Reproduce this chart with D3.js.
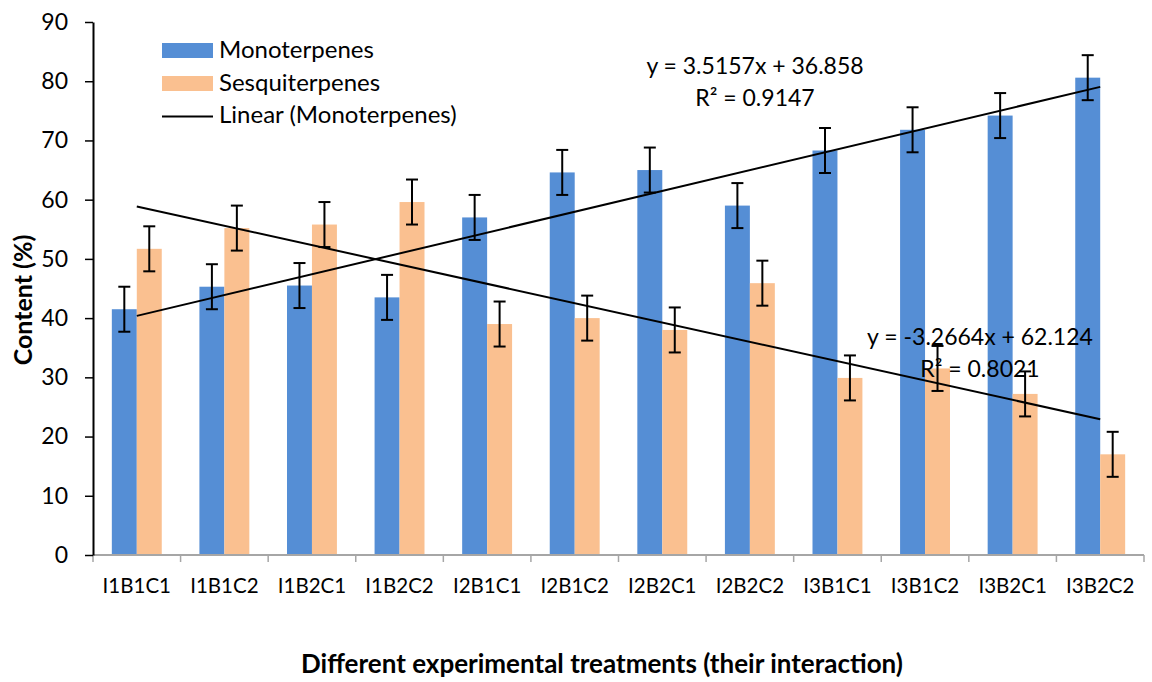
<!DOCTYPE html>
<html>
<head>
<meta charset="utf-8">
<script src="https://cdn.jsdelivr.net/npm/d3@7"></script>
<style>
  body { margin: 0; background: #fff; }
  svg { display: block; font-family: Lato, "Open Sans", sans-serif; }
</style>
</head>
<body>
<div id="chart"></div>
<script>
const categories = ["I1B1C1", "I1B1C2", "I1B2C1", "I1B2C2", "I2B1C1", "I2B1C2",
  "I2B2C1", "I2B2C2", "I3B1C1", "I3B1C2", "I3B2C1", "I3B2C2"];
const monoterpenes = [41.5, 45.3, 45.5, 43.5, 57.0, 64.6, 65.0, 59.0, 68.3, 71.8, 74.2, 80.6];
const sesquiterpenes = [51.7, 55.2, 55.8, 59.6, 39.0, 40.0, 38.0, 45.9, 29.9, 31.5, 27.2, 17.0];
const errorMono = [3.8, 3.8, 3.8, 3.8, 3.8, 3.8, 3.8, 3.8, 3.8, 3.8, 3.8, 3.8];
const errorSesq = [3.8, 3.8, 3.8, 3.8, 3.8, 3.8, 3.8, 3.8, 3.8, 3.8, 3.8, 3.8];
const yTicks = [0, 10, 20, 30, 40, 50, 60, 70, 80, 90];
// trendline coefficients as printed on the chart
const trendMono = { slope: 3.5157, intercept: 36.858, r2: "0.9147" };
const trendSesq = { slope: -3.2664, intercept: 62.124, r2: "0.8021" };

const width = 1152, height = 682;
const margin = { left: 93, right: 8, top: 22, bottom: 127 };

const svg = d3.select("#chart").append("svg")
  .attr("width", width)
  .attr("height", height);

const x = d3.scaleBand()
  .domain(categories)
  .range([margin.left, width - margin.right]);

const y = d3.scaleLinear()
  .domain([0, 90])
  .range([height - margin.bottom, margin.top]);

const barW = x.bandwidth() * 0.285;
const blue = "#558ed5", orange = "#fac090";

// bars
const series = [
  { name: "Monoterpenes", values: monoterpenes, err: errorMono, color: blue, off: -barW },
  { name: "Sesquiterpenes", values: sesquiterpenes, err: errorSesq, color: orange, off: 0 }
];

series.forEach(s => {
  const g = svg.append("g");
  g.selectAll("rect")
    .data(categories)
    .join("rect")
    .attr("x", (c) => x(c) + x.bandwidth() / 2 + s.off)
    .attr("y", (c, i) => y(s.values[i]))
    .attr("width", barW)
    .attr("height", (c, i) => y(0) - y(s.values[i]))
    .attr("fill", s.color);
});

// x axis (grey)
const xAxis = svg.append("g")
  .attr("transform", `translate(0,${y(0)})`);
xAxis.append("line")
  .attr("x1", margin.left).attr("x2", width - margin.right)
  .attr("stroke", "#a6a6a6").attr("stroke-width", 2);
const xEdges = categories.map(c => x(c)).concat([x(categories[categories.length - 1]) + x.bandwidth()]);
xAxis.selectAll("line.tick")
  .data(xEdges)
  .join("line")
  .attr("class", "tick")
  .attr("x1", d => d).attr("x2", d => d)
  .attr("y1", 0).attr("y2", 7)
  .attr("stroke", "#a6a6a6").attr("stroke-width", 1.5);
xAxis.selectAll("text")
  .data(categories)
  .join("text")
  .attr("x", c => x(c) + x.bandwidth() / 2)
  .attr("y", 38)
  .attr("text-anchor", "middle")
  .attr("font-size", 20.5)
  .attr("fill", "#000")
  .text(c => c);

// y axis
const yAxis = svg.append("g")
  .attr("transform", `translate(${margin.left},0)`)
  .call(d3.axisLeft(y).tickValues(yTicks).tickSize(8).tickPadding(17).tickSizeOuter(0));
yAxis.select(".domain").attr("stroke", "#000").attr("stroke-width", 2);
yAxis.selectAll(".tick line").attr("stroke", "#000").attr("stroke-width", 1.5);
yAxis.selectAll(".tick text").attr("font-size", 23).attr("fill", "#000")
  .attr("font-family", "Lato, 'Open Sans', sans-serif");

// error bars
series.forEach(s => {
  const g = svg.append("g").attr("stroke", "#000").attr("stroke-width", 2);
  categories.forEach((c, i) => {
    const cx = x(c) + x.bandwidth() / 2 + s.off + barW / 2;
    const hi = y(s.values[i] + s.err[i]), lo = y(s.values[i] - s.err[i]);
    g.append("line").attr("x1", cx).attr("x2", cx).attr("y1", hi).attr("y2", lo);
    g.append("line").attr("x1", cx - 6).attr("x2", cx + 6).attr("y1", hi).attr("y2", hi);
    g.append("line").attr("x1", cx - 6).attr("x2", cx + 6).attr("y1", lo).attr("y2", lo);
  });
});

// trendlines from first to last category centre (x = 1..12)
function trend(t) {
  const n = categories.length;
  const cx = i => x(categories[i]) + x.bandwidth() / 2;
  svg.append("line")
    .attr("x1", cx(0)).attr("y1", y(t.slope * 1 + t.intercept))
    .attr("x2", cx(n - 1)).attr("y2", y(t.slope * n + t.intercept))
    .attr("stroke", "#000").attr("stroke-width", 2);
}
trend(trendMono);
trend(trendSesq);

function eqLabel(t, cx, cy) {
  const sign = t.intercept >= 0 ? "+" : "-";
  const g = svg.append("g").attr("font-size", 23).attr("fill", "#000").attr("text-anchor", "middle");
  g.append("text").attr("x", cx).attr("y", cy)
    .text(`y = ${t.slope}x ${sign} ${Math.abs(t.intercept)}`);
  g.append("text").attr("x", cx).attr("y", cy + 32)
    .text(`R² = ${t.r2}`);
}
eqLabel(trendMono, 755, 74);
eqLabel(trendSesq, 980, 345);

// legend
const legend = svg.append("g").attr("transform", "translate(162,0)");
legend.append("rect").attr("x", 0).attr("y", 43).attr("width", 51).attr("height", 15).attr("fill", blue);
legend.append("rect").attr("x", 0).attr("y", 76).attr("width", 51).attr("height", 15).attr("fill", orange);
legend.append("line").attr("x1", 0).attr("x2", 51).attr("y1", 116.5).attr("y2", 116.5)
  .attr("stroke", "#000").attr("stroke-width", 2);
const legendLabels = ["Monoterpenes", "Sesquiterpenes", "Linear (Monoterpenes)"];
legend.selectAll("text")
  .data(legendLabels)
  .join("text")
  .attr("x", 57)
  .attr("y", (d, i) => 58 + i * 32.5)
  .attr("font-size", 24)
  .attr("fill", "#000")
  .text(d => d);

// axis titles
svg.append("text")
  .attr("transform", `translate(32,300) rotate(-90)`)
  .attr("text-anchor", "middle")
  .attr("font-size", 25)
  .attr("font-weight", "bold")
  .text("Content (%)");

svg.append("text")
  .attr("x", 602)
  .attr("y", 673)
  .attr("text-anchor", "middle")
  .attr("font-size", 26)
  .attr("font-weight", "bold")
  .text("Different experimental treatments (their interaction)");
</script>
</body>
</html>
